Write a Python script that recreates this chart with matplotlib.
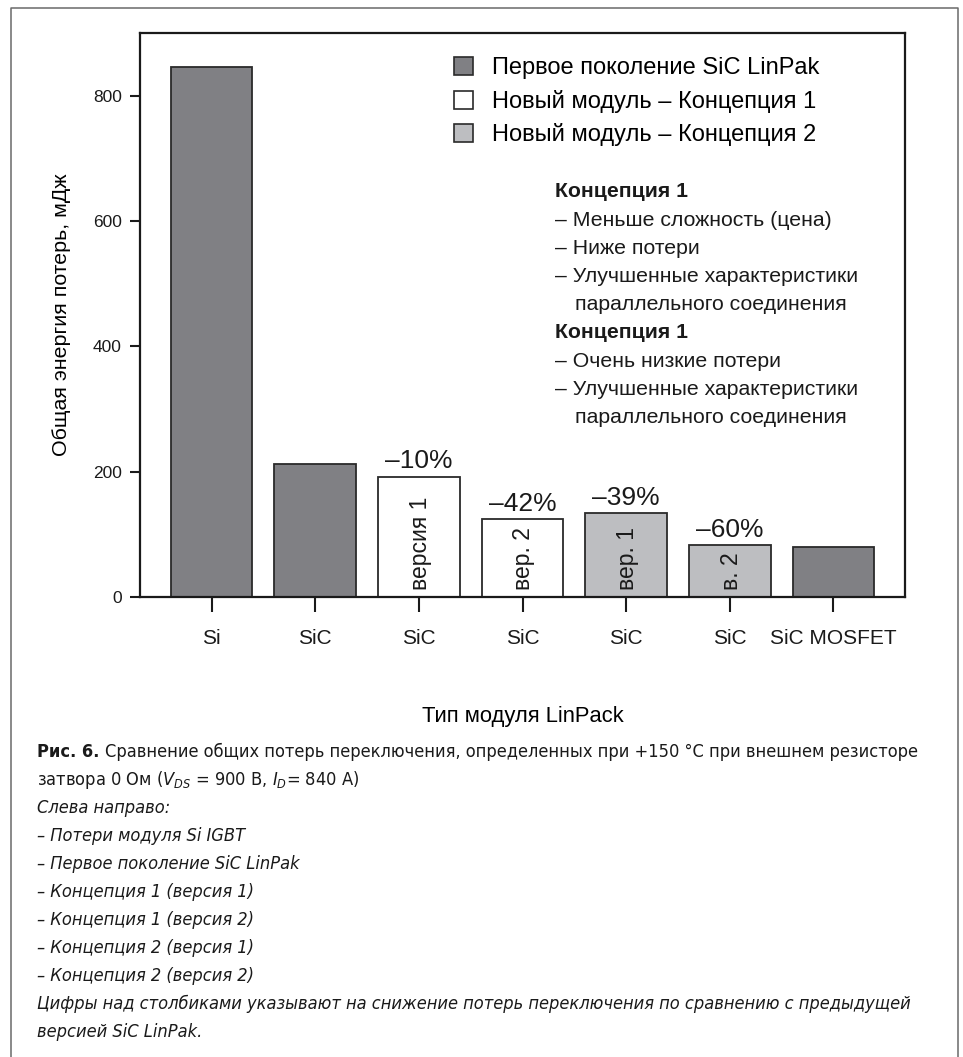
import matplotlib
matplotlib.use('Agg')
import matplotlib.pyplot as plt
from matplotlib.patches import Patch
from matplotlib.lines import Line2D
from matplotlib import font_manager

# data
categories = ['Si', 'SiC', 'SiC', 'SiC', 'SiC', 'SiC', 'SiC MOSFET']
energy = [846, 212, 192, 124, 134, 83, 79]
groups = ['gen1', 'gen1', 'c1', 'c1', 'c2', 'c2', 'gen1']
pct_labels = ['', '', '–10%', '–42%', '–39%', '–60%', '']
inner_labels = ['', '', 'версия 1', 'вер. 2', 'вер. 1', 'в. 2', '']

legend_keys = ['gen1', 'c1', 'c2']
legend_labels = ['Первое поколение SiC LinPak',
                 'Новый модуль – Концепция 1',
                 'Новый модуль – Концепция 2']

notes = [('Концепция 1', True, 0),
         ('– Меньше сложность (цена)', False, 0),
         ('– Ниже потери', False, 0),
         ('– Улучшенные характеристики', False, 0),
         ('параллельного соединения', False, 1),
         ('Концепция 1', True, 0),
         ('– Очень низкие потери', False, 0),
         ('– Улучшенные характеристики', False, 0),
         ('параллельного соединения', False, 1)]

caption_head = 'Рис. 6.'
caption_first = 'Сравнение общих потерь переключения, определенных при +150 °C при внешнем резисторе'
caption = ['затвора 0 Ом ($V_{DS}$ = 900 В, $I_D$= 840 А)',
           'Слева направо:',
           '– Потери модуля Si IGBT',
           '– Первое поколение SiC LinPak',
           '– Концепция 1 (версия 1)',
           '– Концепция 1 (версия 2)',
           '– Концепция 2 (версия 1)',
           '– Концепция 2 (версия 2)',
           'Цифры над столбиками указывают на снижение потерь переключения по сравнению с предыдущей',
           'версией SiC LinPak.']

colors = {'gen1': '#808084', 'c1': '#ffffff', 'c2': '#bdbec1'}
edge = '#2a2a2a'
ink = '#1a1a1a'

plt.rcParams['font.family'] = ['Liberation Sans', 'DejaVu Sans']


# the caption in the reference is set in a condensed face; take one if there is one
def pick_condensed():
    for fam in ['Liberation Sans Narrow', 'Noto Sans', 'DejaVu Sans',
                'Open Sans', 'Roboto']:
        try:
            fp = font_manager.FontProperties(family=fam, stretch='condensed')
            path = font_manager.findfont(fp, fallback_to_default=False)
        except Exception:
            continue
        if 'ondensed' in path or 'Narrow' in path:
            return fam, 'condensed'
    return 'Liberation Sans', 'normal'


cap_fam, cap_stretch = pick_condensed()
plt.rcParams['mathtext.fontset'] = 'custom'
plt.rcParams['mathtext.rm'] = '%s:stretch=%s' % (cap_fam, cap_stretch)
plt.rcParams['mathtext.it'] = '%s:italic:stretch=%s' % (cap_fam, cap_stretch)

W, H = 963, 1057
fig = plt.figure(figsize=(W / 100, H / 100), dpi=100)


def fx(x):
    return x / W


def fy(y):
    return 1 - y / H


ax = fig.add_axes([fx(140), fy(597), fx(905 - 140), (597 - 33) / H])

xs = list(range(len(categories)))
ax.bar(xs, energy, width=0.79,
       color=[colors[g] for g in groups],
       edgecolor=edge, linewidth=1.3, zorder=2)

for x, v, p, lab in zip(xs, energy, pct_labels, inner_labels):
    if p:
        ax.annotate(p, (x, v), xytext=(0, 6), textcoords='offset points',
                    ha='center', va='baseline', fontsize=19, color=ink)
    if lab:
        ax.annotate(lab, (x, 0), xytext=(1, 5), textcoords='offset points',
                    ha='center', va='bottom', rotation=90, fontsize=16.5,
                    color=ink)

ax.set_xlim(-0.69, 6.69)
ax.set_ylim(0, 900)
ax.set_yticks([0, 200, 400, 600, 800])
ax.set_xticks(xs)
ax.set_xticklabels(categories, fontsize=15)
ax.tick_params(axis='y', labelsize=12.5, length=7, width=1.5, pad=6,
               colors=ink)
ax.tick_params(axis='x', length=11, width=1.5, pad=12, colors=ink)
for s in ax.spines.values():
    s.set_linewidth(1.6)
    s.set_color(ink)

ax.set_ylabel('Общая энергия потерь, мДж', fontsize=15.4, labelpad=16)
ax.set_xlabel('Тип модуля LinPack', fontsize=15.8, labelpad=42)

handles = [Patch(facecolor=colors[k], edgecolor=edge, linewidth=1.2)
           for k in legend_keys]
ax.legend(handles, legend_labels, loc='upper left',
          bbox_to_anchor=(fx(454), fy(57)), bbox_transform=fig.transFigure,
          frameon=False, fontsize=17, handlelength=0.8, handleheight=0.8,
          handletextpad=0.8, labelspacing=0.45, borderpad=0, borderaxespad=0)

for i, (txt, bold, indent) in enumerate(notes):
    fig.text(fx(555 + 20 * indent), fy(192 + 28.2 * i), txt, fontsize=15.3,
             fontweight='bold' if bold else 'normal', va='center', color=ink)

# caption below the chart, sized so its longest line spans like the reference
cap_kw = dict(family=[cap_fam, 'DejaVu Sans'], stretch=cap_stretch,
              va='center', color=ink)
cap_texts = []
head = fig.text(fx(37), fy(752), caption_head, fontsize=14,
                fontweight='bold', **cap_kw)
first = fig.text(fx(37), fy(752), caption_first, fontsize=14, **cap_kw)
cap_texts += [head, first]
for i, line in enumerate(caption):
    t = fig.text(fx(37), fy(752 + 28 * (i + 1)), line, fontsize=14,
                 style='normal' if i == 0 else 'italic', **cap_kw)
    cap_texts.append(t)

renderer = fig.canvas.get_renderer()
longest = cap_texts[-2].get_window_extent(renderer).width
size = min(15.0, 14 * 878 / longest)
for t in cap_texts:
    t.set_fontsize(size)
head_w = head.get_window_extent(renderer).width
first.set_x(fx(37 + head_w + 6))

# outer frame (open at the bottom)
frame = Line2D([fx(11), fx(11), fx(958), fx(958)],
               [fy(H + 5), fy(8), fy(8), fy(H + 5)],
               transform=fig.transFigure, color='#6a6a6a', linewidth=1.1)
fig.lines.append(frame)

fig.savefig('out.png', dpi=100)
